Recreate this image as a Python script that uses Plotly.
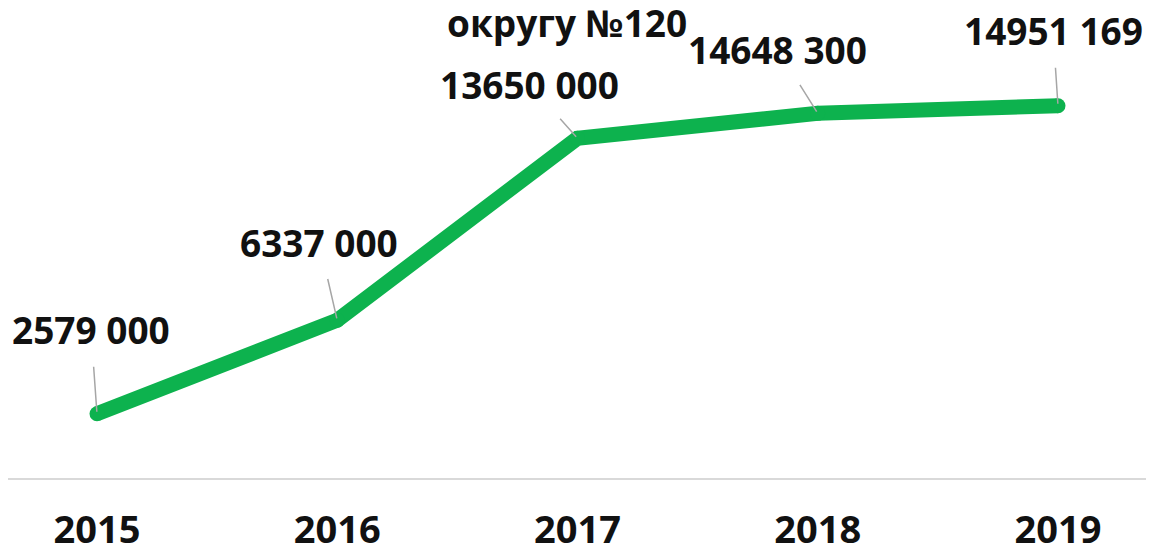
import plotly.graph_objects as go

years = ["2015", "2016", "2017", "2018", "2019"]
values = [2579000, 6337000, 13650000, 14648300, 14951169]
labels = ["2579 000", "6337 000", "13650 000", "14648 300", "14951 169"]
label_dx = [-6, -18, -48, -40, -5]
label_dy = [-84, -78, -54, -64, -75]
title_text = "округу №120"

GREEN = "#0db24e"
FONT = "Open Sans"

idx = list(range(len(years)))

fig = go.Figure()
fig.add_trace(go.Scatter(
    x=idx, y=values, mode="lines+markers",
    line=dict(color=GREEN, width=15),
    marker=dict(color=GREEN, size=15),
    hoverinfo="skip", showlegend=False,
))

for i, v, lab, dx, dy in zip(idx, values, labels, label_dx, label_dy):
    fig.add_annotation(
        x=i, y=v, xref="x", yref="y", text=f"<b>{lab}</b>", showarrow=True,
        ax=dx, ay=dy, arrowhead=0, arrowwidth=1.5, arrowcolor="#a6a6a6",
        standoff=2, startstandoff=10,
        font=dict(family=FONT, size=37, color="#111111"),
    )

fig.add_annotation(
    xref="paper", yref="paper", x=0.4844, y=1, yanchor="top", xanchor="center",
    yshift=13, text=f"<b>{title_text}</b>", showarrow=False,
    font=dict(family=FONT, size=37, color="#111111"),
)

fig.update_layout(
    width=1154, height=546, autosize=False,
    margin=dict(l=0, r=0, t=0, b=76, pad=0),
    plot_bgcolor="white", paper_bgcolor="white",
    xaxis=dict(
        range=[-0.3704, 4.4329], automargin=False,
        showgrid=False, zeroline=False,
        showline=True, linecolor="#d9d9d9", linewidth=2,
        ticks="", ticklabelstandoff=17,
        tickfont=dict(family=FONT, size=38, color="#111111"),
        tickmode="array", tickvals=idx, ticktext=[f"<b>{y}</b>" for y in years],
    ),
    yaxis=dict(
        range=[0, 18880000], visible=False, showgrid=False, zeroline=False,
        automargin=False,
    ),
)

fig.write_html("out.html")
